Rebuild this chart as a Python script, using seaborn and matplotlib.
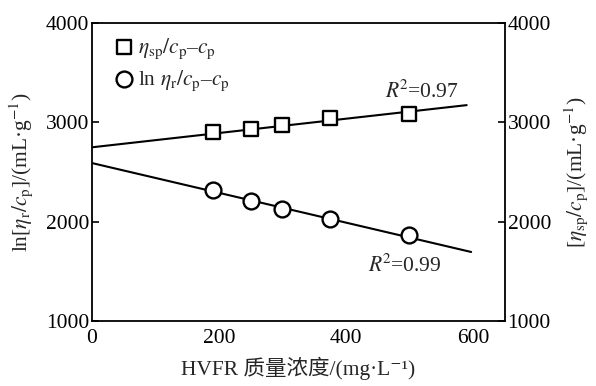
import matplotlib
matplotlib.use("Agg")
import matplotlib.pyplot as plt
import seaborn as sns
import numpy as np
import pandas as pd

# ---- data ----
conc = [190, 250, 300, 375, 500]
eta_sp_cp = [2905, 2935, 2975, 3045, 3085]
ln_eta_r_cp = [2320, 2210, 2128, 2027, 1866]

fit_sp_intercept, fit_sp_slope, fit_sp_xend = 2750, 0.72, 590
fit_r_intercept, fit_r_slope, fit_r_xend = 2592, -1.50, 597

r2_labels = ["0.97", "0.99"]
x_ticks = [0, 200, 400, 600]
y_ticks = [1000, 2000, 3000, 4000]

sns.set_theme(style="white")
plt.rcParams["font.family"] = ["Liberation Serif", "Noto Sans CJK SC", "DejaVu Serif"]
plt.rcParams["mathtext.fontset"] = "stix"

df = pd.DataFrame({"conc": conc, "sp": eta_sp_cp, "r": ln_eta_r_cp})
fx1 = np.array([0, fit_sp_xend])
fx2 = np.array([0, fit_r_xend])
fit_df1 = pd.DataFrame({"x": fx1, "y": fit_sp_intercept + fit_sp_slope * fx1})
fit_df2 = pd.DataFrame({"x": fx2, "y": fit_r_intercept + fit_r_slope * fx2})

FS = 15.5

fig = plt.figure(figsize=(5.96, 3.86), dpi=100)
ax = fig.add_axes([0.154, 0.168, 0.693, 0.772])

sns.lineplot(data=fit_df1, x="x", y="y", ax=ax, color="black", lw=1.5)
sns.lineplot(data=fit_df2, x="x", y="y", ax=ax, color="black", lw=1.5)

lab_sp = r"$\eta_{\rm sp}/c_{\rm p}$–$c_{\rm p}$"
lab_r = r"ln $\eta_{\rm r}/c_{\rm p}$–$c_{\rm p}$"
sns.scatterplot(data=df, x="conc", y="sp", ax=ax, marker="s", s=100,
                facecolor="white", edgecolor="black", linewidth=1.7, label=lab_sp, zorder=3)
sns.scatterplot(data=df, x="conc", y="r", ax=ax, marker="o", s=130,
                facecolor="white", edgecolor="black", linewidth=1.7, label=lab_r, zorder=3)

ax.set_xlim(0, 650)
ax.set_ylim(1000, 4000)
ax.set_xticks(x_ticks)
ax.set_yticks(y_ticks)
ax.tick_params(axis="both", direction="in", length=5, width=1.2, labelsize=FS,
               colors="black", pad=6)
ax.tick_params(axis="y", pad=2)
for s in ax.spines.values():
    s.set_color("black")
    s.set_linewidth(1.3)

ax.set_xlabel("HVFR 质量浓度/(mg·L⁻¹)", fontsize=FS, labelpad=6)
ax.set_ylabel(r"ln[$\eta_{\rm r}/c_{\rm p}$]/(mL·g$^{-1}$)", fontsize=FS, labelpad=8)

ax2 = ax.twinx()
ax2.set_ylim(1000, 4000)
ax2.set_yticks(y_ticks)
ax2.tick_params(axis="y", direction="in", length=5, width=1.2, labelsize=FS,
                colors="black", pad=2)
for s in ax2.spines.values():
    s.set_visible(False)
ax2.set_ylabel(r"[$\eta_{\rm sp}/c_{\rm p}$]/(mL·g$^{-1}$)", fontsize=FS, labelpad=8)

ax.text(520, 3315, r"$R^{\!2}$=" + r2_labels[0], fontsize=FS, ha="center", va="center")
ax.text(492, 1563, r"$R^{\!2}$=" + r2_labels[1], fontsize=FS, ha="center", va="center")

leg = ax.legend(loc="upper left", frameon=False, fontsize=FS, handletextpad=0.15,
                borderaxespad=0.2, labelspacing=0.35, handlelength=1.0,
                bbox_to_anchor=(0.02, 1.0))

fig.savefig("out.png", dpi=100)
